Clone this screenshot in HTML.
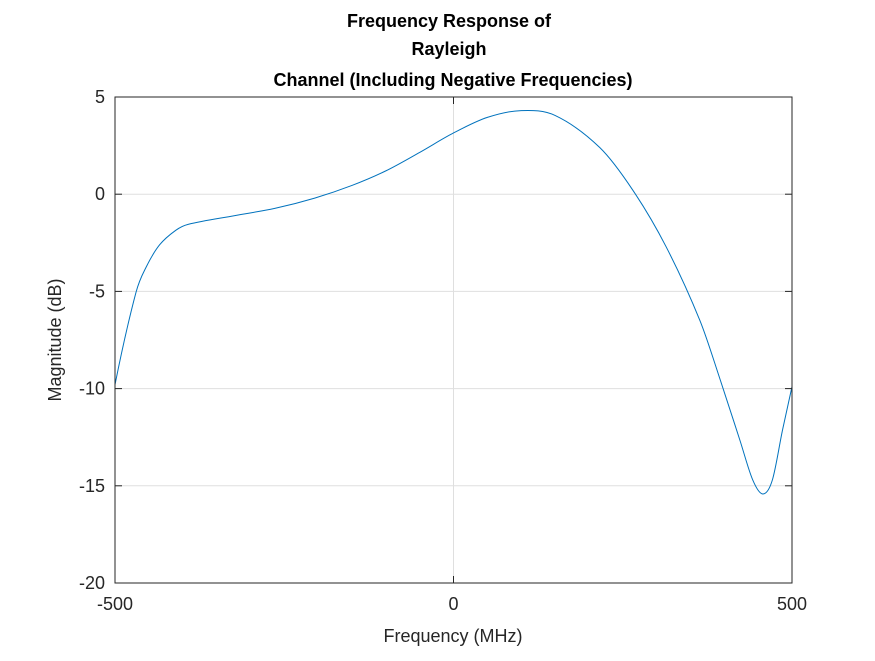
<!DOCTYPE html>
<html><head><meta charset="utf-8"><style>
body{margin:0;background:#fff;}
text{font-family:"Liberation Sans",Arial,sans-serif;}
</style></head><body>
<svg id="chart" width="875" height="656" xmlns="http://www.w3.org/2000/svg">
<rect width="875" height="656" fill="#fff"/>
<g id="grid"></g>
<g id="plot"></g>
<g id="axes"></g>
<text x="449" y="27" text-anchor="middle" font-size="18" font-weight="bold">Frequency Response of</text>
<text x="449" y="55" text-anchor="middle" font-size="18" font-weight="bold">Rayleigh</text>
<text x="453" y="86" text-anchor="middle" font-size="18" font-weight="bold">Channel (Including Negative Frequencies)</text>
<text x="453" y="642" text-anchor="middle" font-size="18" fill="#262626">Frequency (MHz)</text>
<text transform="translate(61,340) rotate(-90)" text-anchor="middle" font-size="18" fill="#262626">Magnitude (dB)</text>
</svg>
<script>
const freqs=[-500,-469,-454,-434,-410,-392,-323,-264,-205,-150,-100,-50,0,50,100,150,216,265,314,364,394,423,442,457,471,486,500];
const mags=[-9.8,-5.05,-3.75,-2.6,-1.85,-1.55,-1.1,-0.73,-0.2,0.45,1.2,2.15,3.15,3.95,4.3,4.05,2.4,0.2,-2.7,-6.5,-9.55,-12.65,-14.7,-15.42,-14.7,-12.13,-9.9];
const xTicks=[-500,0,500];
const yTicks=[5,0,-5,-10,-15,-20];
const L=115,R=792,T=97,B=583;
const sx=v=>L+(v+500)/1000*(R-L);
const sy=v=>T+(5-v)/25*(B-T);
const NS="http://www.w3.org/2000/svg";
function mk(tag,attrs,parent){const e=document.createElementNS(NS,tag);for(const k in attrs)e.setAttribute(k,attrs[k]);parent.appendChild(e);return e;}
const grid=document.getElementById('grid'),axes=document.getElementById('axes'),plot=document.getElementById('plot');
xTicks.forEach(t=>{
  const g=mk('line',{x1:sx(t),x2:sx(t),y1:T,y2:B,stroke:'#dfdfdf','stroke-width':1},grid);
  
  
  const tk=mk('line',{x1:sx(t),x2:sx(t),y1:B,y2:B-7,stroke:'#262626'},axes);
  
  
  const tk2=mk('line',{x1:sx(t),x2:sx(t),y1:T,y2:T+7,stroke:'#262626'},axes);
  
  
  const lb=mk('text',{x:sx(t),y:B+27,'text-anchor':'middle','font-size':18,fill:'#262626'},axes);
  lb.textContent=t;
  
  
});
yTicks.forEach(t=>{
  const g=mk('line',{x1:L,x2:R,y1:sy(t),y2:sy(t),stroke:'#dfdfdf','stroke-width':1},grid);
  
  
  const tk=mk('line',{x1:L,x2:L+7,y1:sy(t),y2:sy(t),stroke:'#262626'},axes);
  
  
  const tk2=mk('line',{x1:R,x2:R-7,y1:sy(t),y2:sy(t),stroke:'#262626'},axes);
  
  
  const lb=mk('text',{x:L-10,y:sy(t)+6,'text-anchor':'end','font-size':18,fill:'#262626'},axes);
  lb.textContent=t;
  
  
});
const box=mk('rect',{x:L,y:T,width:R-L,height:B-T,fill:'none',stroke:'#262626','stroke-width':1},axes);


const pts=freqs.map((f,i)=>[sx(f),sy(mags[i])]);
const n=pts.length;
const m=pts.map((p,i)=>{
  const a=pts[Math.max(0,i-1)],b=pts[Math.min(n-1,i+1)];
  return (b[1]-a[1])/(b[0]-a[0]);
});
const s0=(pts[1][1]-pts[0][1])/(pts[1][0]-pts[0][0]);
m[0]=2*s0-m[1];
const sN=(pts[n-1][1]-pts[n-2][1])/(pts[n-1][0]-pts[n-2][0]);
m[n-1]=2*sN-m[n-2];
let d='M'+pts[0][0]+','+pts[0][1];
for(let i=0;i<n-1;i++){
  const p1=pts[i],p2=pts[i+1],dx=(p2[0]-p1[0])/3;
  d+=' C'+(p1[0]+dx)+','+(p1[1]+m[i]*dx)+' '+(p2[0]-dx)+','+(p2[1]-m[i+1]*dx)+' '+p2[0]+','+p2[1];
}
const line=mk('path',{d:d,fill:'none',stroke:'#0072bd','stroke-width':1},plot);


</script>
</body></html>
